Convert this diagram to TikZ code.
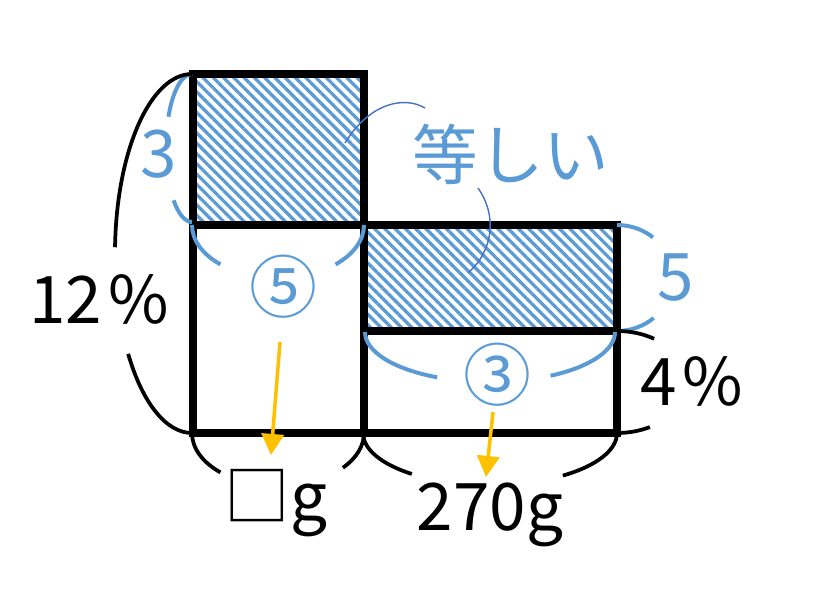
\documentclass[tikz,border=0pt]{standalone}
\usepackage{fontspec}
\setmainfont{Noto Sans CJK JP}
\usetikzlibrary{arrows.meta,patterns.meta}
\definecolor{hblue}{HTML}{5B9BD5}
\definecolor{lblue}{HTML}{4472C4}
\definecolor{navy}{HTML}{1F3864}
\definecolor{gold}{HTML}{FFC000}

\begin{document}
\begin{tikzpicture}[x=0.03cm,y=-0.03cm,
		wall/.style={line width=6.8pt,line join=miter},
		hatch/.style={draw=navy,line width=0.8pt,pattern={Lines[angle=-45,distance=6.2pt,line width=2.8pt]},pattern color=hblue},
		bluearc/.style={line width=3.4pt,draw=hblue},
		blackarc/.style={line width=3.2pt},
		leader/.style={line width=1.2pt,draw=lblue},
		toarrow/.style={line width=3pt,draw=gold,-{Triangle[width=19pt,length=18pt]}},
		lbl/.style={font=\fontsize{56}{60}\selectfont,inner sep=0pt},
		bluelbl/.style={lbl,text=hblue}]
		\useasboundingbox (0,0) rectangle (832,604);
		\draw[hatch] (193,74) rectangle (364,225);
		\draw[hatch] (364,225) rectangle (617,331);
		\draw[wall] (193,74) -- (364,74) -- (364,225) -- (617,225) -- (617,433) -- (193,433) -- cycle;
		\draw[wall] (193,225) -- (364,225) -- (364,433);
		\draw[wall] (364,331) -- (617,331);
		\draw[bluearc] (192,148) ++(270:26 and 74) arc[start angle=270,end angle=205,x radius=26,y radius=74];
		\draw[bluearc] (192,148) ++(135:26 and 74) arc[start angle=135,end angle=90,x radius=26,y radius=74];
		\draw[bluearc] (278,225) ++(180:86 and 53) arc[start angle=180,end angle=132,x radius=86,y radius=53];
		\draw[bluearc] (278,225) ++(48:86 and 53) arc[start angle=48,end angle=0,x radius=86,y radius=53];
		\draw[bluearc] (617,278) ++(270:56 and 53) arc[start angle=270,end angle=310,x radius=56,y radius=53];
		\draw[bluearc] (617,278) ++(49:56 and 53) arc[start angle=49,end angle=90,x radius=56,y radius=53];
		\draw[bluearc] (490,332) ++(180:125 and 50) arc[start angle=180,end angle=115,x radius=125,y radius=50];
		\draw[bluearc] (490,332) ++(61:125 and 50) arc[start angle=61,end angle=0,x radius=125,y radius=50];
		\draw[blackarc] (192,253.5) ++(270:77 and 179.5) arc[start angle=270,end angle=182,x radius=77,y radius=179.5];
		\draw[blackarc] (192,253.5) ++(146:77 and 179.5) arc[start angle=146,end angle=90,x radius=77,y radius=179.5];
		\draw[blackarc] (617,382) ++(270:70 and 51) arc[start angle=270,end angle=302,x radius=70,y radius=51];
		\draw[blackarc] (617,382) ++(62:70 and 51) arc[start angle=62,end angle=90,x radius=70,y radius=51];
		\draw[blackarc] (278,433) ++(180:86 and 53) arc[start angle=180,end angle=132,x radius=86,y radius=53];
		\draw[blackarc] (278,433) ++(41:86 and 53) arc[start angle=41,end angle=0,x radius=86,y radius=53];
		\draw[blackarc] (490,433) ++(180:127 and 52) arc[start angle=180,end angle=128,x radius=127,y radius=52];
		\draw[blackarc] (490,433) ++(55:127 and 52) arc[start angle=55,end angle=0,x radius=127,y radius=52];
		\node[bluelbl,anchor=base] (l3) at (159,177) {3};
		\node[bluelbl,anchor=base] (l5) at (676,300) {5};
		\node[bluelbl,font=\fontsize{58}{60}\selectfont] (c5) at (283,287) {⑤};
		\node[bluelbl,font=\fontsize{58}{60}\selectfont] (c3) at (497,375) {③};
		\node[bluelbl] (equal) at (511,154) {等しい};
		\node[lbl,anchor=base] (l12) at (99,323) {12\hspace{5pt}\%};
		\node[lbl,anchor=base] (l4) at (692,405) {4\hspace{5pt}\%};
		\node[lbl,anchor=base] (blank) at (276,520) {□g};
		\node[lbl,anchor=base] (w270) at (490,530) {270g};
		\coordinate (eqa) at (345,143);
		\coordinate (eqb) at (425,108);
		\coordinate (eqc) at (478,188);
		\coordinate (eqd) at (468,273);
		\draw[leader] (eqa) .. controls (370,102) and (405,96) .. (eqb);
		\draw[leader] (eqc) .. controls (497,215) and (494,250) .. (eqd);
		\coordinate (a5) at (280,342);
		\coordinate (b5) at (271,455);
		\coordinate (a3) at (493,412);
		\coordinate (b3) at (486,477);
		\draw[toarrow] (a5) -- (b5);
		\draw[toarrow] (a3) -- (b3);
	\end{tikzpicture}
\end{document}
